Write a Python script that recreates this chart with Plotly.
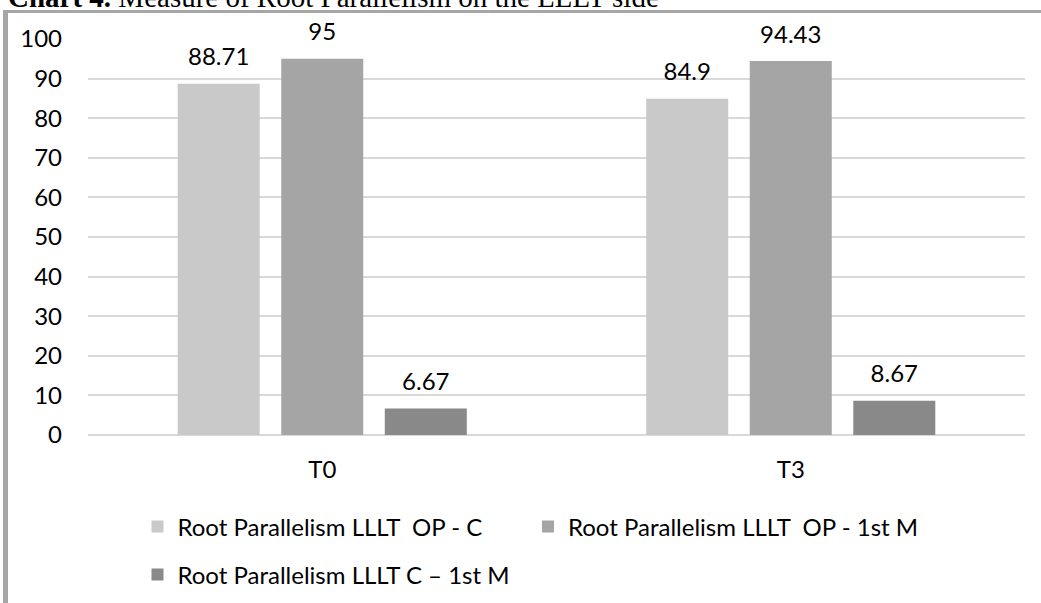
import plotly.graph_objects as go

categories = ["T0", "T3"]
series_names = [
    "Root Parallelism LLLT\u00a0 OP - C",
    "Root Parallelism LLLT\u00a0 OP - 1st M",
    "Root Parallelism LLLT C \u2013 1st M",
]
op_c = [88.71, 84.9]
op_1st = [95, 94.43]
c_1st = [6.67, 8.67]
series_values = [op_c, op_1st, c_1st]
series_colors = ["#c9c9c9", "#a5a5a5", "#898989"]
legend_ids = ["legend", "legend", "legend2"]
y_ticks = [0, 10, 20, 30, 40, 50, 60, 70, 80, 90, 100]

W, H = 1041, 603
ML, MR, MT, MB = 88, 16, 39, 168
PW = W - ML - MR
PH = H - MT - MB

FONT = "Lato"
FS = 24
BARGAP = 0.337
GROUPGAP = 0.208


def px_x(p):
    return (p - ML) / PW


def px_y(p):
    return (H - MB - p) / PH


fig = go.Figure()
for name, vals, col, lg in zip(series_names, series_values, series_colors, legend_ids):
    fig.add_trace(go.Bar(
        x=categories, y=vals, name=name, marker=dict(color=col, line=dict(width=0)),
        legend=lg, hoverinfo="skip",
    ))
for name, vals in zip(series_names, series_values):
    fig.add_trace(go.Scatter(
        x=categories, y=vals, mode="markers+text", text=[f"{v:g}" for v in vals],
        textposition="top center", textfont=dict(family=FONT, size=FS, color="#000000"),
        marker=dict(size=18.5, opacity=0), showlegend=False, cliponaxis=False,
        hoverinfo="skip",
    ))

fig.update_layout(
    width=W, height=H,
    margin=dict(l=ML, r=MR, t=MT, b=MB, pad=0, autoexpand=False),
    paper_bgcolor="white", plot_bgcolor="white",
    barmode="group", bargap=BARGAP, bargroupgap=GROUPGAP,
    scattermode="group", scattergap=BARGAP,
    font=dict(family=FONT, size=FS, color="#000000"),
    xaxis=dict(showgrid=False, showline=False, zeroline=False, ticks="",
               tickfont=dict(family=FONT, size=FS, color="#000000"),
               ticklabelstandoff=18),
    yaxis=dict(range=[0, 100], tickvals=y_ticks, showgrid=True, gridcolor="#d9d9d9",
               gridwidth=1.5, zeroline=True, zerolinecolor="#d9d9d9", zerolinewidth=1.5,
               showline=False, ticks="", tickfont=dict(family=FONT, size=FS, color="#000000"),
               ticklabelstandoff=25),
    legend=dict(orientation="h", x=px_x(137.5), xanchor="left", y=px_y(527), yanchor="middle",
                entrywidth=345.5, entrywidthmode="pixels",
                font=dict(family=FONT, size=FS, color="#000000"), bgcolor="rgba(0,0,0,0)"),
    legend2=dict(orientation="h", x=px_x(137.5), xanchor="left", y=px_y(575), yanchor="middle",
                 font=dict(family=FONT, size=FS, color="#000000"), bgcolor="rgba(0,0,0,0)"),
    showlegend=True,
)

fig.add_annotation(
    text="<b>Chart 4.</b> Measure of Root Parallelism on the LLLT side",
    xref="paper", yref="paper", x=px_x(6), y=px_y(15), xanchor="left", yanchor="bottom",
    showarrow=False, font=dict(family="Liberation Serif", size=29, color="#000000"),
)

fig.add_shape(type="line", xref="paper", yref="paper", x0=px_x(3), x1=px_x(1045),
              y0=px_y(11.5), y1=px_y(11.5), line=dict(color="#a6a6a6", width=3), layer="above")
fig.add_shape(type="line", xref="paper", yref="paper", x0=px_x(5.5), x1=px_x(5.5),
              y0=px_y(10), y1=px_y(610), line=dict(color="#a6a6a6", width=5), layer="above")

fig.write_html("out.html", config={"displayModeBar": False},
               post_script="document.body.style.margin='0';")
